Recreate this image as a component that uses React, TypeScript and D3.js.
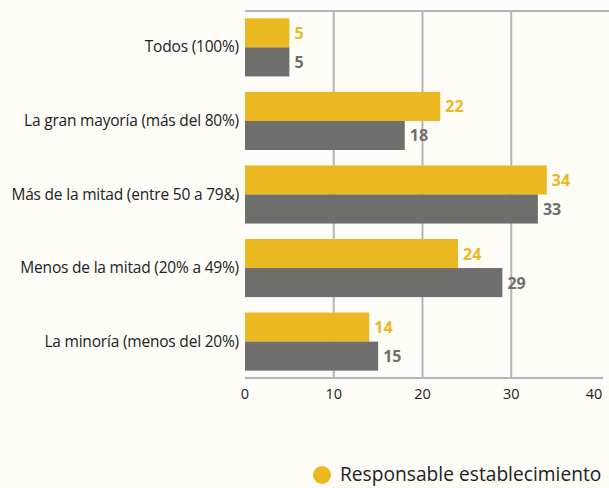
import * as d3 from "d3";

const categories = [
  "Todos (100%)",
  "La gran mayoría (más del 80%)",
  "Más de la mitad (entre 50 a 79&)",
  "Menos de la mitad (20% a 49%)",
  "La minoría (menos del 20%)",
];
const responsable = [5, 22, 34, 24, 14];
const otros = [5, 18, 33, 29, 15];
const xTicks = [0, 10, 20, 30, 40];
const legendLabel = "Responsable establecimiento";

const width = 609;
const height = 488;
const yellow = "#ebb81f";
const grey = "#6e6e6c";
const font = "'Open Sans', Lato, sans-serif";

export default function App() {
  const x = d3.scaleLinear().domain([0, 40]).range([245, 600]);
  const y = d3
    .scaleBand<number>()
    .domain(d3.range(categories.length))
    .range([11, 378])
    .paddingInner(0.21)
    .paddingOuter(0.1);
  const half = y.bandwidth() / 2;

  const series = [
    { values: responsable, color: yellow, offset: 0 },
    { values: otros, color: grey, offset: half },
  ];

  return (
    <svg
      width={width}
      height={height}
      style={{ position: "absolute", left: 0, top: 0, background: "#fdfcf7" }}
    >
      <rect width={width} height={height} fill="#fdfcf7" />
      {/* grid */}
      <g stroke="#b5b5b5" strokeWidth={2}>
        {xTicks.slice(1, 4).map((t) => (
          <line key={t} x1={x(t)} x2={x(t)} y1={11} y2={378} />
        ))}
        <line x1={x(0)} x2={width} y1={11} y2={11} />
        <line x1={x(0)} x2={603} y1={378} y2={378} />
      </g>
      {xTicks.map((t) => (
        <text
          key={t}
          x={Math.min(x(t), 594)}
          y={399}
          textAnchor="middle"
          fontFamily={font}
          fontSize={14.5}
          fill="#222"
        >
          {t}
        </text>
      ))}
      {categories.map((c, i) => (
        <text
          key={c}
          x={239}
          y={(y(i) ?? 0) + half + 5}
          textAnchor="end"
          fontFamily={font}
          fontSize={15.5}
          letterSpacing={-0.2}
          fill="#222"
        >
          {c}
        </text>
      ))}
      {series.map((s, si) => (
        <g key={si}>
          {s.values.map((v, i) => (
            <rect
              key={i}
              x={x(0)}
              y={(y(i) ?? 0) + s.offset}
              width={x(v) - x(0)}
              height={half}
              fill={s.color}
            />
          ))}
          {s.values.map((v, i) => (
            <text
              key={i}
              x={x(v) + 5}
              y={(y(i) ?? 0) + s.offset + half / 2 + 6}
              fontFamily={font}
              fontSize={16}
              fontWeight="bold"
              fill={s.color}
            >
              {v}
            </text>
          ))}
        </g>
      ))}
      <circle cx={322} cy={475} r={9} fill={yellow} />
      <text x={340} y={481} fontFamily={font} fontSize={19.2} fill="#222">
        {legendLabel}
      </text>
    </svg>
  );
}
